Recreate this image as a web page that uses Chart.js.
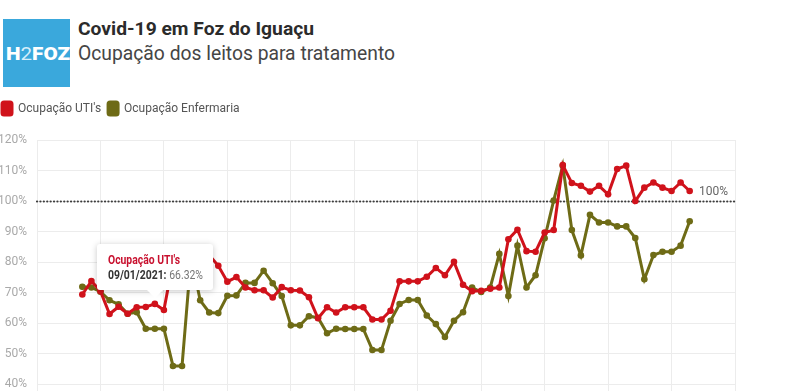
<!DOCTYPE html>
<html>
<head>
<meta charset="utf-8">
<script src="https://cdn.jsdelivr.net/npm/chart.js@4.4.1/dist/chart.umd.min.js"></script>
<style>
html, body { margin: 0; padding: 0; background: #fff; width: 800px; height: 391px; overflow: hidden; font-family: Roboto, sans-serif; }
#logo { position: absolute; left: 3px; top: 19px; width: 67px; height: 68px; background: #3aa8dc; }
#logoText { position: absolute; left: 3px; top: 25px; color: #fff; font: 900 19px Roboto, sans-serif; line-height: 1; white-space: nowrap; transform-origin: left center; }
#logoText span { color: #d6eefa; font-weight: 400; }
.fit { position: absolute; white-space: nowrap; line-height: 1; transform-origin: left center; }
#title { left: 78px; top: 19px; font-size: 19px; font-weight: 700; color: #2b2b2b; }
#subtitle { left: 78px; top: 43px; font-size: 20px; font-weight: 400; color: #454545; }
#wrap { position: absolute; left: -5px; top: 95px; width: 805px; height: 337px; }
#tip { position: absolute; display: none; background: #fff; border-radius: 3px; box-shadow: 0 1px 6px rgba(0,0,0,0.22); padding: 8px 11px 8px 11px; width: 94px; height: 30px; font-size: 13px; line-height: 15px; }
#tip:after { content: ''; position: absolute; left: 50%; bottom: -8px; margin-left: -8px; border-left: 8px solid transparent; border-right: 8px solid transparent; border-top: 8px solid #fff; }
#tip div { white-space: nowrap; transform-origin: left center; }
#tip .tt { color: #c8102e; font-weight: 700; }
#tip .td { color: #333; font-weight: 700; }
#tip .tv { color: #777; }
</style>
</head>
<body>
<div id="logo"><div id="logoText" class="fit" data-w="64">H<span>2</span>FOZ</div></div>
<div id="title" class="fit" data-w="236">Covid-19 em Foz do Iguaçu</div>
<div id="subtitle" class="fit" data-w="317">Ocupação dos leitos para tratamento</div>
<div id="wrap"><canvas id="chart"></canvas></div>
<div id="tip"><div id="tipTitle" class="tt"></div><div id="tipBody"><span class="td"></span><span class="tv"></span></div></div>
<script>
// dias (dd/mm/aaaa)
const dates = [
    '01/01/2021', '02/01/2021', '03/01/2021', '04/01/2021', '05/01/2021', '06/01/2021', '07/01/2021', '08/01/2021',
    '09/01/2021', '10/01/2021', '11/01/2021', '12/01/2021', '13/01/2021', '14/01/2021', '15/01/2021', '16/01/2021',
    '17/01/2021', '18/01/2021', '19/01/2021', '20/01/2021', '21/01/2021', '22/01/2021', '23/01/2021', '24/01/2021',
    '25/01/2021', '26/01/2021', '27/01/2021', '28/01/2021', '29/01/2021', '30/01/2021', '31/01/2021', '01/02/2021',
    '02/02/2021', '03/02/2021', '04/02/2021', '05/02/2021', '06/02/2021', '07/02/2021', '08/02/2021', '09/02/2021',
    '10/02/2021', '11/02/2021', '12/02/2021', '13/02/2021', '14/02/2021', '15/02/2021', '16/02/2021', '17/02/2021',
    '18/02/2021', '19/02/2021', '20/02/2021', '21/02/2021', '22/02/2021', '23/02/2021', '24/02/2021', '25/02/2021',
    '26/02/2021', '27/02/2021', '28/02/2021', '01/03/2021', '02/03/2021', '03/03/2021', '04/03/2021', '05/03/2021',
    '06/03/2021', '07/03/2021', '08/03/2021', '09/03/2021'
];

// ocupação (%)
const uti = [
    69.4, 73.8, 70.5, 63.0, 65.4, 63.1, 65.2, 65.3, 66.32, 64.3, 80.0, 82.5, 82.5, 82.8, 82.3, 78.8,
    73.6, 75.1, 71.7, 70.8, 70.8, 68.4, 71.8, 70.8, 70.7, 68.5, 61.6, 65.2, 63.5, 65.2, 65.2, 65.2,
    61.2, 61.2, 64.1, 73.7, 73.7, 73.7, 75.2, 78.1, 75.7, 80.1, 72.6, 70.5, 70.6, 71.3, 71.7, 87.5,
    90.6, 83.6, 83.4, 89.7, 90.5, 111.8, 105.9, 105.0, 103.1, 105.0, 102.2, 110.5, 111.6, 100.0, 104.4, 106.1,
    104.4, 103.3, 106.1, 103.3
];
const enfermaria = [
    71.9, 71.7, 70.3, 67.5, 66.2, 63.1, 63.6, 58.2, 58.2, 58.2, 46.0, 46.0, 82.0, 67.5, 63.5, 63.3,
    69.0, 69.1, 73.2, 73.2, 77.2, 73.1, 68.9, 59.3, 59.3, 62.3, 61.8, 56.7, 58.2, 58.1, 58.1, 58.1,
    51.2, 51.2, 60.8, 66.3, 67.6, 67.6, 62.5, 59.7, 55.5, 60.8, 63.6, 71.7, 70.2, 71.7, 82.7, 68.9,
    85.4, 71.7, 75.7, 87.8, 100.2, 111.6, 90.5, 82.2, 95.5, 93.0, 93.0, 91.7, 91.7, 87.9, 74.4, 82.3,
    83.4, 83.4, 85.4, 93.4
];

const seriesNames = ['Ocupação UTI\'s', 'Ocupação Enfermaria'];
const seriesColors = ['#d0121b', '#6e6b16'];
const yTicks = [40, 50, 60, 70, 80, 90, 100, 110, 120];
const limit = 100;
const axisStart = '27/12/2020';
const axisEnd = '14/03/2021';
const highlighted = '09/01/2021';

function dayNumber(str) {
    const [d, m, y] = str.split('/').map(Number);
    return Date.UTC(y, m - 1, d) / 86400000;
}

function toPoints(values) {
    return values.map((v, i) => ({ x: dayNumber(dates[i]), y: v }));
}

// squeeze the header text to the condensed look of the original
document.querySelectorAll('.fit').forEach(el => {
    const w = el.getBoundingClientRect().width;
    el.style.transform = 'scaleX(' + (el.dataset.w / w) + ')';
});

const limitLine = {
    id: 'limitLine',
    beforeDatasetsDraw(chart) {
        const { ctx, chartArea, scales } = chart;
        const y = Math.round(scales.y.getPixelForValue(limit)) + 0.5;
        ctx.save();
        ctx.strokeStyle = '#3d3d3d';
        ctx.lineWidth = 2.2;
        ctx.lineCap = 'round';
        ctx.setLineDash([0.1, 3.3]);
        ctx.beginPath();
        ctx.moveTo(chartArea.left, y);
        ctx.lineTo(chartArea.right, y);
        ctx.stroke();
        ctx.setLineDash([]);
        ctx.fillStyle = '#666';
        ctx.font = '12px Roboto, sans-serif';
        ctx.textAlign = 'right';
        ctx.textBaseline = 'alphabetic';
        ctx.fillText(limit + '%', chartArea.right - 7, y - 7);
        ctx.restore();
    }
};

const legendSpace = {
    id: 'legendSpace',
    beforeInit(chart) {
        const fit = chart.legend.fit;
        chart.legend.fit = function () {
            fit.bind(chart.legend)();
            this.height = 45;
        };
    }
};

function externalTip(context) {
    const t = context.tooltip;
    const tip = document.getElementById('tip');
    if (t.opacity === 0 || !t.dataPoints || !t.dataPoints.length) {
        tip.style.display = 'none';
        return;
    }
    const p = t.dataPoints[0];
    document.getElementById('tipTitle').textContent = p.dataset.label;
    tip.querySelector('.td').textContent = dates[p.dataIndex] + ': ';
    tip.querySelector('.tv').textContent = p.raw.y.toFixed(2) + '%';
    tip.style.display = 'block';
    [['tipTitle', 72], ['tipBody', 95]].forEach(([id, w]) => {
        const el = document.getElementById(id);
        el.style.display = 'inline-block';
        const r = el.getBoundingClientRect().width;
        el.style.transform = 'scaleX(' + (w / r) + ')';
        el.style.display = 'block';
    });
    const wrap = document.getElementById('wrap');
    tip.style.left = (wrap.offsetLeft + t.caretX - tip.offsetWidth / 2) + 'px';
    tip.style.top = (wrap.offsetTop + t.caretY - 14 - tip.offsetHeight) + 'px';
}

const chart = new Chart(document.getElementById('chart'), {
    type: 'line',
    data: {
        datasets: [uti, enfermaria].map((vals, i) => ({
            label: seriesNames[i],
            data: toPoints(vals),
            borderColor: seriesColors[i],
            backgroundColor: seriesColors[i],
            pointBackgroundColor: seriesColors[i],
            pointBorderColor: seriesColors[i],
            borderWidth: 3,
            pointRadius: 3.3,
            pointBorderWidth: 0,
            tension: 0
        }))
    },
    options: {
        responsive: true,
        maintainAspectRatio: false,
        animation: false,
        events: [],
        layout: { padding: { left: 0, right: 65, top: 0, bottom: 0 } },
        plugins: {
            legend: {
                position: 'top',
                align: 'start',
                labels: {
                    boxWidth: 10,
                    boxHeight: 13,
                    useBorderRadius: true,
                    borderRadius: 2,
                    padding: 7,
                    color: '#555',
                    font: { family: 'Roboto', size: 12 }
                }
            },
            tooltip: {
                enabled: false,
                external: externalTip
            }
        },
        scales: {
            x: {
                type: 'linear',
                min: dayNumber(axisStart),
                max: dayNumber(axisEnd),
                ticks: { display: false, stepSize: 7 },
                grid: { color: '#ececec', drawTicks: false },
                border: { display: false }
            },
            y: {
                min: 30,
                max: 120,
                afterFit(scale) { scale.width = 42; },
                afterBuildTicks(scale) { scale.ticks = yTicks.map(v => ({ value: v })); },
                ticks: {
                    padding: 10,
                    color: '#a9a9a9',
                    font: { family: 'Roboto', size: 12 },
                    callback: v => v + '%'
                },
                grid: { color: '#ececec', drawTicks: false },
                border: { display: false }
            }
        }
    },
    plugins: [limitLine, legendSpace]
});

const hi = dates.indexOf(highlighted);
const el = chart.getDatasetMeta(0).data[hi];
chart.tooltip.setActiveElements([{ datasetIndex: 0, index: hi }], { x: el.x, y: el.y });
chart.update();
</script>
</body>
</html>
